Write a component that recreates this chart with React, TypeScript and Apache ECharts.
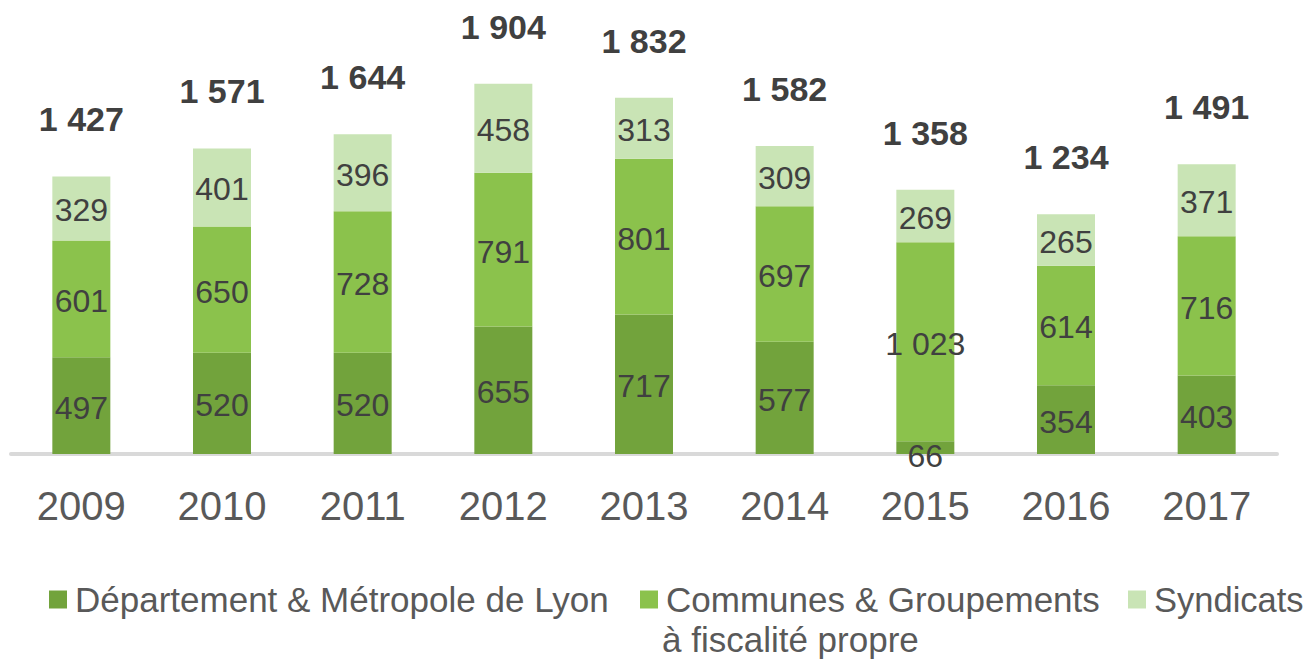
import React, { useEffect, useRef } from "react";
import * as echarts from "echarts";

const years = ["2009", "2010", "2011", "2012", "2013", "2014", "2015", "2016", "2017"];
const departement = [497, 520, 520, 655, 717, 577, 66, 354, 403];
const communes = [601, 650, 728, 791, 801, 697, 1023, 614, 716];
const syndicats = [329, 401, 396, 458, 313, 309, 269, 265, 371];
const totals = [1427, 1571, 1644, 1904, 1832, 1582, 1358, 1234, 1491];

const seriesNames = [
  "Département & Métropole de Lyon",
  "Communes & Groupements à fiscalité propre",
  "Syndicats",
];
const colors = ["#72a33c", "#8bc24c", "#c9e4b5"];

const FONT = "'Liberation Sans', Arial, sans-serif";

function fmt(v: number): string {
  if (v >= 1000) {
    return Math.floor(v / 1000) + " " + String(v % 1000).padStart(3, "0");
  }
  return String(v);
}

export default function App() {
  const ref = useRef<HTMLDivElement>(null);

  useEffect(() => {
    if (!ref.current) return;
    const chart = echarts.init(ref.current, undefined, { renderer: "svg" });

    const labelBase = {
      show: true,
      position: "inside" as const,
      color: "#404040",
      fontSize: 32,
      fontFamily: FONT,
      offset: [0, 2],
      formatter: (p: any) => fmt(p.value),
    };

    const mkData = (arr: number[]) =>
      arr.map((v) =>
        v < 100 ? { value: v, label: { offset: [0, 8] } } : { value: v }
      );

    const legendCommon = {
      top: 577,
      itemWidth: 18,
      itemHeight: 18,
      icon: "rect",
      selectedMode: false as const,
    };
    const legendText = (size: number) => ({
      fontSize: size,
      fontFamily: FONT,
      color: "#595959",
      padding: [0, 0, 0, 3],
    });

    chart.setOption({
      animation: false,
      grid: { left: 11, right: 28, top: 65, bottom: 205 },
      xAxis: {
        type: "category",
        data: years,
        axisLine: { show: true, lineStyle: { color: "#d9d9d9", width: 4 } },
        axisTick: { show: false },
        axisLabel: {
          color: "#595959",
          fontSize: 40,
          fontFamily: FONT,
          margin: 32,
        },
      },
      yAxis: {
        type: "value",
        min: 0,
        max: 2000,
        show: false,
        splitLine: { show: false },
      },
      legend: [
        { ...legendCommon, left: 44, data: [seriesNames[0]], textStyle: legendText(35) },
        {
          ...legendCommon,
          left: 635,
          data: [seriesNames[1]],
          textStyle: legendText(35),
          formatter: () => "Communes & Groupements",
        },
        { ...legendCommon, left: 1123, data: [seriesNames[2]], textStyle: legendText(34.5) },
      ],
      graphic: [
        {
          type: "text",
          left: 662,
          top: 622,
          style: {
            text: "à fiscalité propre",
            fontSize: 35,
            fontFamily: FONT,
            fill: "#595959",
          },
        },
      ],
      series: [
        {
          name: seriesNames[0],
          type: "bar",
          stack: "total",
          barWidth: 58,
          itemStyle: { color: colors[0] },
          label: labelBase,
          data: mkData(departement),
        },
        {
          name: seriesNames[1],
          type: "bar",
          stack: "total",
          barWidth: 58,
          itemStyle: { color: colors[1] },
          label: labelBase,
          data: mkData(communes),
        },
        {
          name: seriesNames[2],
          type: "bar",
          stack: "total",
          barWidth: 58,
          itemStyle: { color: colors[2] },
          label: labelBase,
          data: mkData(syndicats),
        },
        {
          name: "Total",
          type: "bar",
          stack: "total",
          barWidth: 58,
          itemStyle: { color: "transparent" },
          label: {
            show: true,
            position: "top",
            distance: 40,
            color: "#404040",
            fontSize: 34,
            fontWeight: "bold",
            fontFamily: FONT,
            formatter: (p: any) => fmt(totals[p.dataIndex]),
          },
          data: totals.map(() => 0),
        },
      ],
    });

    return () => chart.dispose();
  }, []);

  return (
    <div
      ref={ref}
      style={{ position: "absolute", left: 0, top: 0, width: 1305, height: 659 }}
    />
  );
}
